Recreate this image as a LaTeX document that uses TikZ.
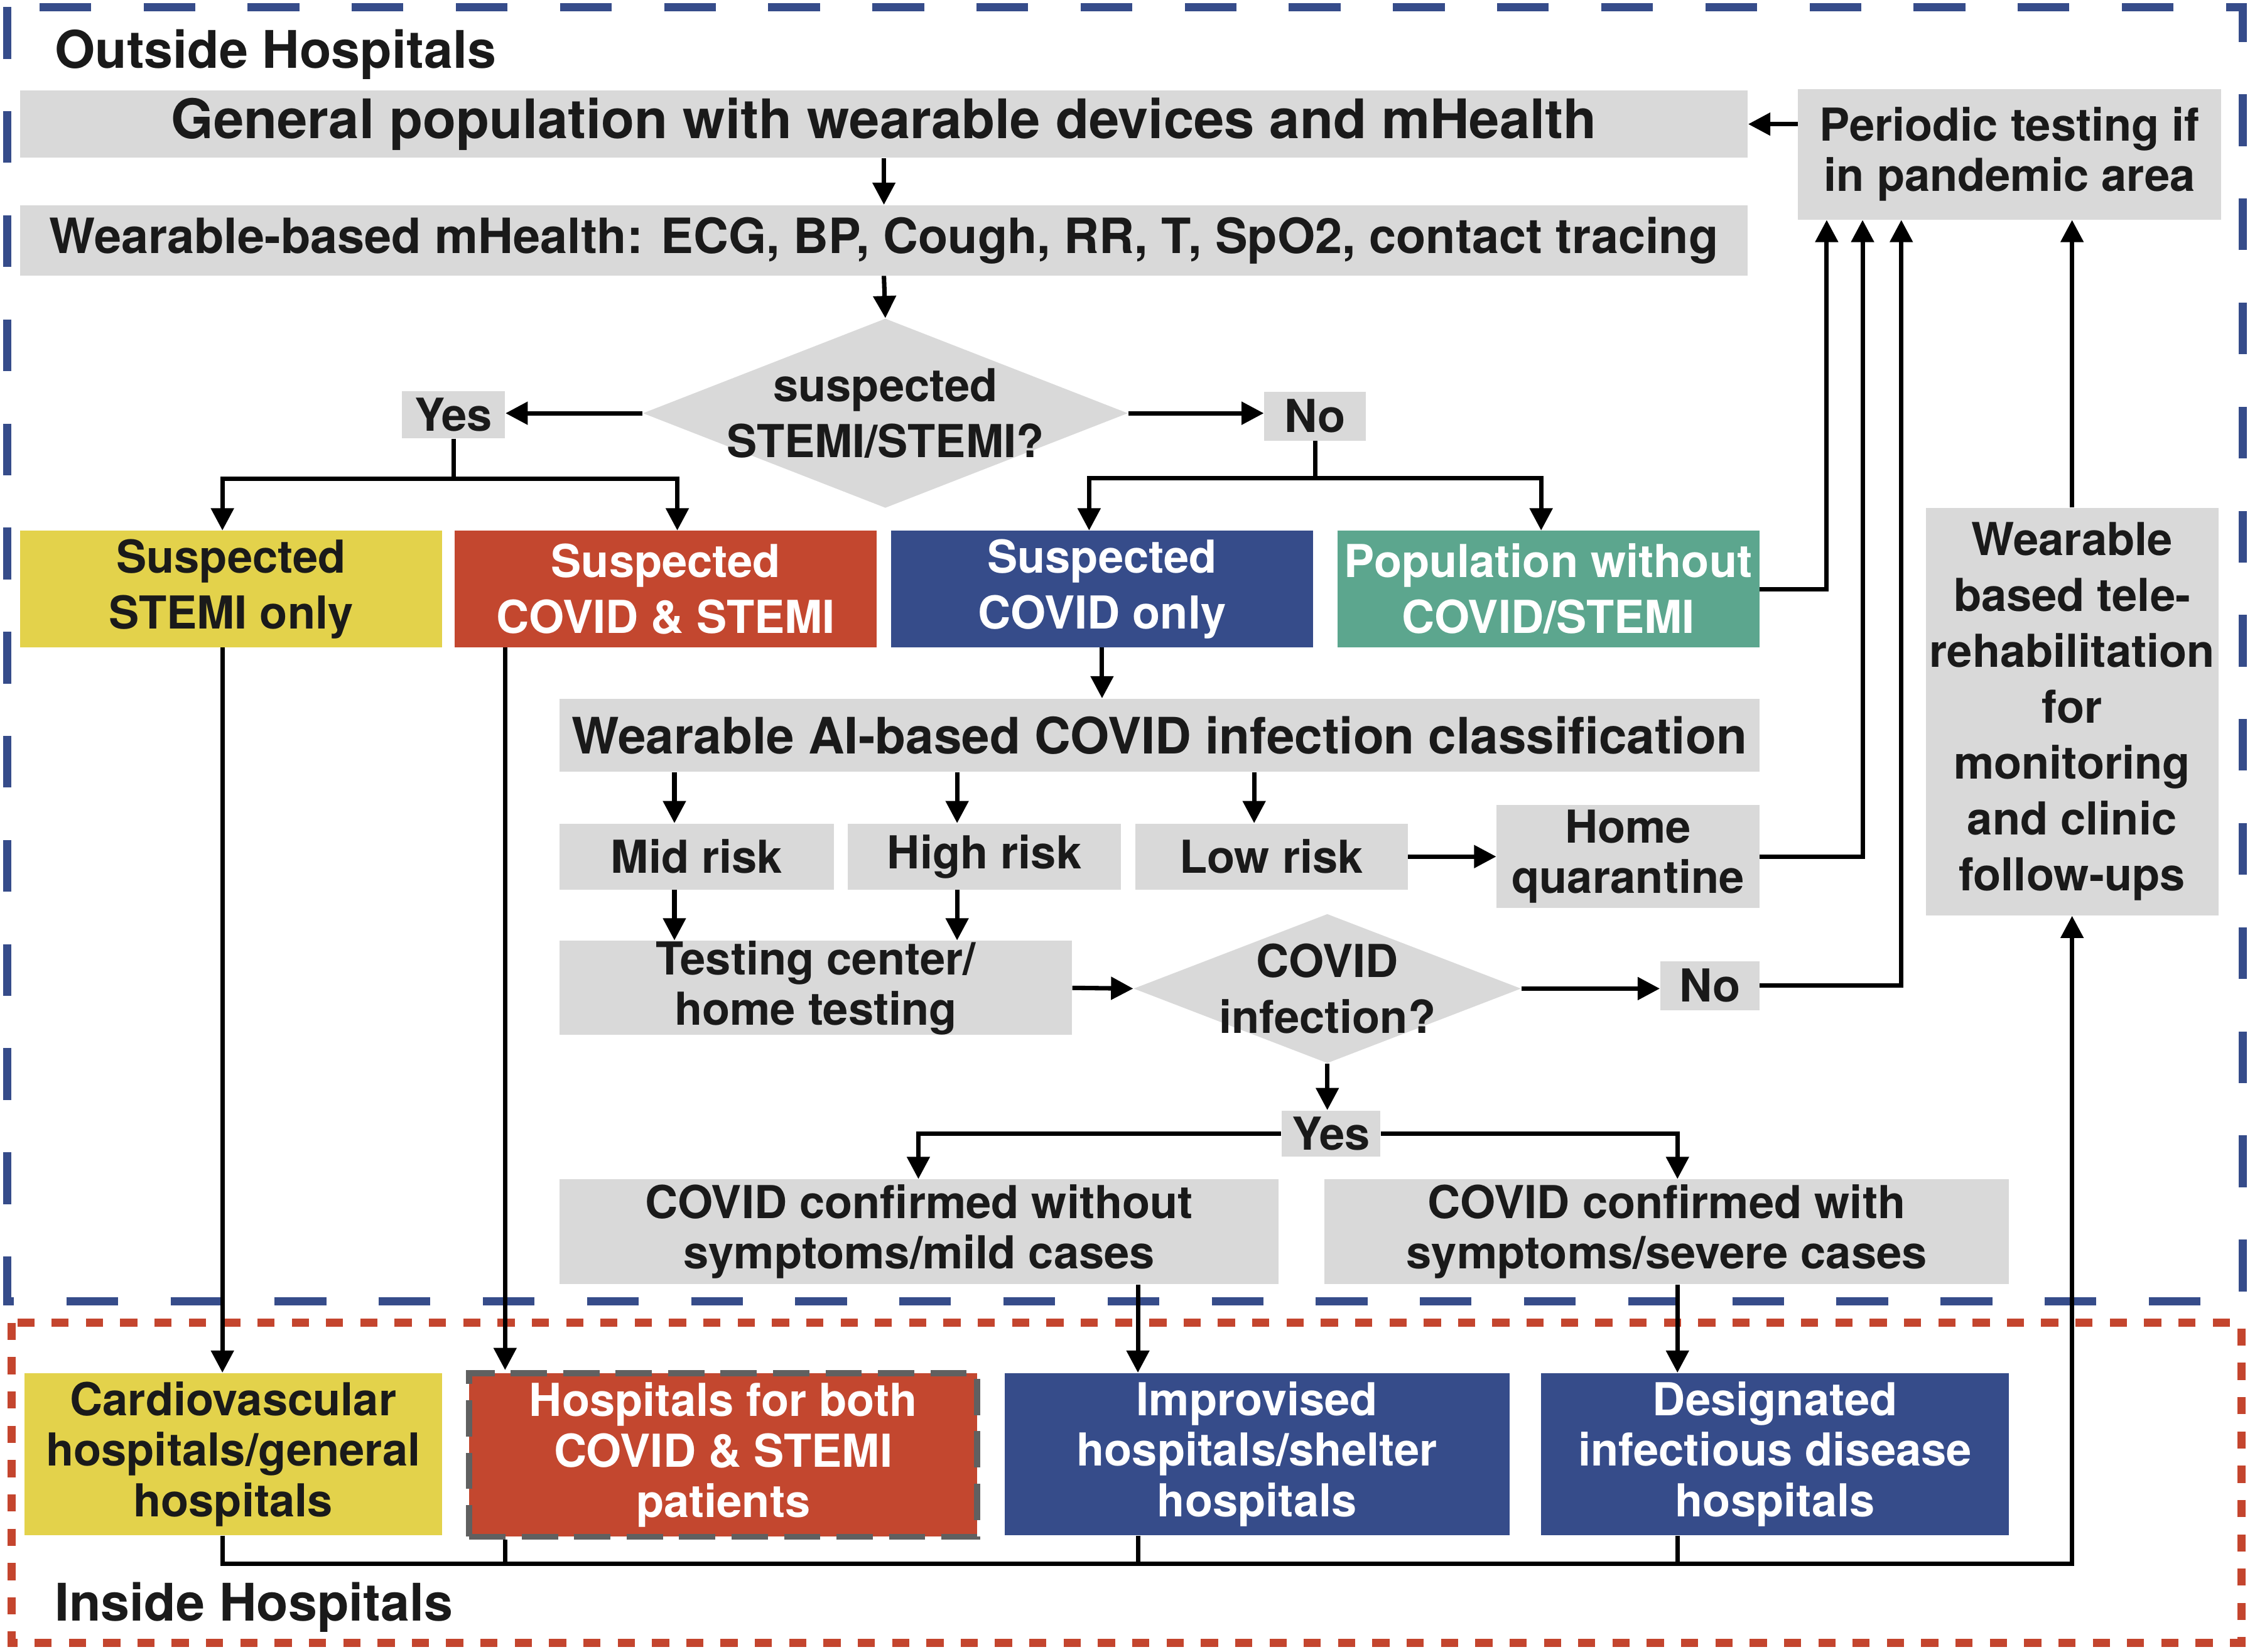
\documentclass[tikz,border=0pt]{standalone}
\usepackage{fontspec}
\setmainfont{TeX Gyre Heros}
\usetikzlibrary{shapes.geometric, arrows.meta}

\definecolor{boxgray}{HTML}{D9D9D9}
\definecolor{stemiyellow}{HTML}{E3D24B}
\definecolor{bothred}{HTML}{C3472F}
\definecolor{covidblue}{HTML}{364C8A}
\definecolor{popgreen}{HTML}{5CA68E}
\definecolor{framered}{HTML}{C4452E}
\definecolor{bordergray}{HTML}{606060}
\definecolor{txt}{HTML}{1A1A1A}

\newcommand{\nf}{\fontsize{22.5}{25}\selectfont\bfseries}
\newcommand{\nft}{\fontsize{22.5}{27.7}\selectfont\bfseries}
\newcommand{\lf}{\fontsize{24.1}{29}\selectfont\bfseries}
\newcommand{\af}{\fontsize{24.9}{29}\selectfont\bfseries}
\newcommand{\hf}{\fontsize{27}{32}\selectfont\bfseries}
\newcommand{\tf}{\fontsize{25.7}{30}\selectfont\bfseries}

\tikzset{
  sz/.style 2 args={minimum width=#1*0.025cm, minimum height=#2*0.025cm},
  box/.style={rectangle, fill=boxgray, inner sep=0pt, align=center, font=\nf, text=txt},
  colbox/.style={box, fill=#1, text=white, font=\nft},
  decision/.style={diamond, fill=boxgray, inner sep=0pt},
  arr/.style={-{Triangle[width=11pt,length=11pt]}, line width=2.2pt, black},
  link/.style={line width=2.2pt, black},
}

\begin{document}
\begin{tikzpicture}[x=0.025cm, y=-0.025cm]
    \useasboundingbox (0,0) rectangle (1568,1151);
    \fill[white] (0,0) rectangle (1568,1151);

    % frames
    \draw[covidblue, line width=4pt, dash pattern=on 25.6pt off 26pt] (5,5) rectangle (1563,907);
    \draw[framered, line width=4pt, dash pattern=on 8.5pt off 8.5pt] (8,922) rectangle (1562,1145);
    \node[anchor=west, font=\tf, text=txt, inner sep=0pt] (outside) at (38,38) {Outside Hospitals};
    \node[anchor=west, font=\tf, text=txt, inner sep=0pt] (inside) at (38,1120) {Inside Hospitals};

    % columns for vertical connectors
    \coordinate (xa) at (155,0);
    \coordinate (xb) at (352,0);
    \coordinate (xc) at (472,0);
    \coordinate (xd) at (759,0);
    \coordinate (xe) at (1074,0);
    \coordinate (xf) at (470,0);
    \coordinate (xg) at (667,0);
    \coordinate (xh) at (874,0);
    \coordinate (xi) at (1273,0);
    \coordinate (xj) at (1298,0);
    \coordinate (xk) at (1325,0);
    \coordinate (xl) at (793,0);
    \coordinate (xm) at (1169,0);
    \coordinate (xn) at (640,0);
    \coordinate (bus) at (0,1090);

    % outside hospitals
    \node[box, sz={1204}{47}, font=\hf] (genpop) at (616,86.5) {General population with wearable devices and mHealth};
    \node[box, sz={1204}{49}, font=\lf] (mhealth) at (616,167.5) {Wearable-based mHealth: ECG, BP, Cough, RR, T, SpO2, contact tracing};
    \node[box, sz={295}{91}] (periodic) at (1400.5,107.5) {Periodic testing if\\in pandemic area};
    \node[decision, sz={338}{132}, label={[font=\nft, text=txt, align=center]center:suspected\\STEMI/STEMI?}] (stemiq) at (617,288) {};
    \node[box, sz={72}{33}] (yes1) at (316,289) {Yes};
    \node[box, sz={71}{34}] (no1) at (916.5,290) {No};
    \node[box, fill=stemiyellow, font=\nft, sz={294}{81}] (sstemi) at (161,410.5) {Suspected\\STEMI only};
    \node[colbox=bothred, sz={294}{81}] (sboth) at (464,410.5) {Suspected\\COVID \& STEMI};
    \node[colbox=covidblue, sz={294}{81}] (scovid) at (768,410.5) {Suspected\\COVID only};
    \node[colbox=popgreen, sz={294}{81}] (spop) at (1079,410.5) {Population without\\COVID/STEMI};
    \node[box, sz={836}{51}, font=\af] (aiclass) at (808,512.5) {Wearable AI-based COVID infection classification};
    \node[box, sz={191}{46}] (midrisk) at (485.5,597) {Mid risk};
    \node[box, sz={190}{46}] (highrisk) at (686,597) {High risk};
    \node[box, sz={190}{46}] (lowrisk) at (886,597) {Low risk};
    \node[box, sz={183}{72}] (homeq) at (1134.5,597) {Home\\quarantine};
    \node[box, sz={357}{65}] (testing) at (568.5,688.5) {Testing center/\\home testing};
    \node[decision, sz={270}{104}, label={[font=\nft, text=txt, align=center]center:COVID\\infection?}] (covidq) at (925,689) {};
    \node[box, sz={69}{34}] (no2) at (1191.5,687) {No};
    \node[box, sz={69}{32}] (yes2) at (927.5,790) {Yes};
    \node[box, sz={501}{73}] (mild) at (640.5,858.5) {COVID confirmed without\\symptoms/mild cases};
    \node[box, sz={477}{73}] (severe) at (1161.5,858.5) {COVID confirmed with\\symptoms/severe cases};
    \node[box, font=\nft, sz={204}{284}] (rehab) at (1444,496) {Wearable\\based tele-\\rehabilitation\\for\\monitoring\\and clinic\\follow-ups};

    % inside hospitals
    \node[box, fill=stemiyellow, sz={291}{113}] (cardio) at (162.5,1013.5) {Cardiovascular\\hospitals/general\\hospitals};
    \node[colbox=bothred, font=\nf, sz={354}{114}, draw=bordergray, line width=3pt, dash pattern=on 18pt off 8pt] (both) at (504,1014) {Hospitals for both\\COVID \& STEMI\\patients};
    \node[colbox=covidblue, font=\nf, sz={352}{113}] (improv) at (876,1013.5) {Improvised\\hospitals/shelter\\hospitals};
    \node[colbox=covidblue, font=\nf, sz={326}{113}] (design) at (1237,1013.5) {Designated\\infectious disease\\hospitals};

    % connectors
    \draw[arr] (periodic.west |- genpop.east) -- (genpop.east);
    \draw[arr] (genpop.south) -- (mhealth.north);
    \draw[arr] (mhealth.south) -- (stemiq.north);
    \draw[arr] (stemiq.west) -- (yes1.east |- stemiq.west);
    \draw[arr] (stemiq.east) -- (no1.west |- stemiq.east);
    \draw[link] (yes1.south) -- ++(0,28) coordinate (ysplit);
    \draw[arr] (ysplit) -| (sstemi.north -| xa);
    \draw[arr] (ysplit) -| (sboth.north -| xc);
    \draw[link] (no1.south) -- ++(0,26) coordinate (nsplit);
    \draw[arr] (nsplit) -| (scovid.north -| xd);
    \draw[arr] (nsplit) -| (spop.north -| xe);
    \draw[arr] (spop.east) -| (periodic.south -| xi);
    \draw[arr] (homeq.east) -| (periodic.south -| xj);
    \draw[arr] (no2.east) -| (periodic.south -| xk);
    \draw[arr] (rehab.north) -- (periodic.south -| rehab.north);
    \draw[arr] (sstemi.south -| xa) -- (cardio.north -| xa);
    \draw[arr] (sboth.south -| xb) -- (both.north -| xb);
    \draw[arr] (scovid.south) -- (scovid.south |- aiclass.north);
    \foreach \r/\c in {midrisk/xf, highrisk/xg, lowrisk/xh}
        \draw[arr] (aiclass.south -| \c) -- (\r.north -| \c);
    \foreach \r/\c in {midrisk/xf, highrisk/xg}
        \draw[arr] (\r.south -| \c) -- (testing.north -| \c);
    \draw[arr] (lowrisk.east) -- (homeq.west |- lowrisk.east);
    \draw[arr] (testing.east) -- (covidq.west);
    \draw[arr] (covidq.east) -- (no2.west |- covidq.east);
    \draw[arr] (covidq.south) -- (covidq.south |- yes2.north);
    \draw[arr] (yes2.west) -| (mild.north -| xn);
    \draw[arr] (yes2.east) -| (severe.north -| xm);
    \draw[arr] (mild.south -| xl) -- (improv.north -| xl);
    \draw[arr] (severe.south -| xm) -- (design.north -| xm);
    \draw[arr] (cardio.south -| xa) -- (xa |- bus) -- (bus -| rehab.south) -- (rehab.south);
    \foreach \h/\c in {both/xb, improv/xl, design/xm}
        \draw[link] (\h.south -| \c) -- (bus -| \c);
\end{tikzpicture}
\end{document}
